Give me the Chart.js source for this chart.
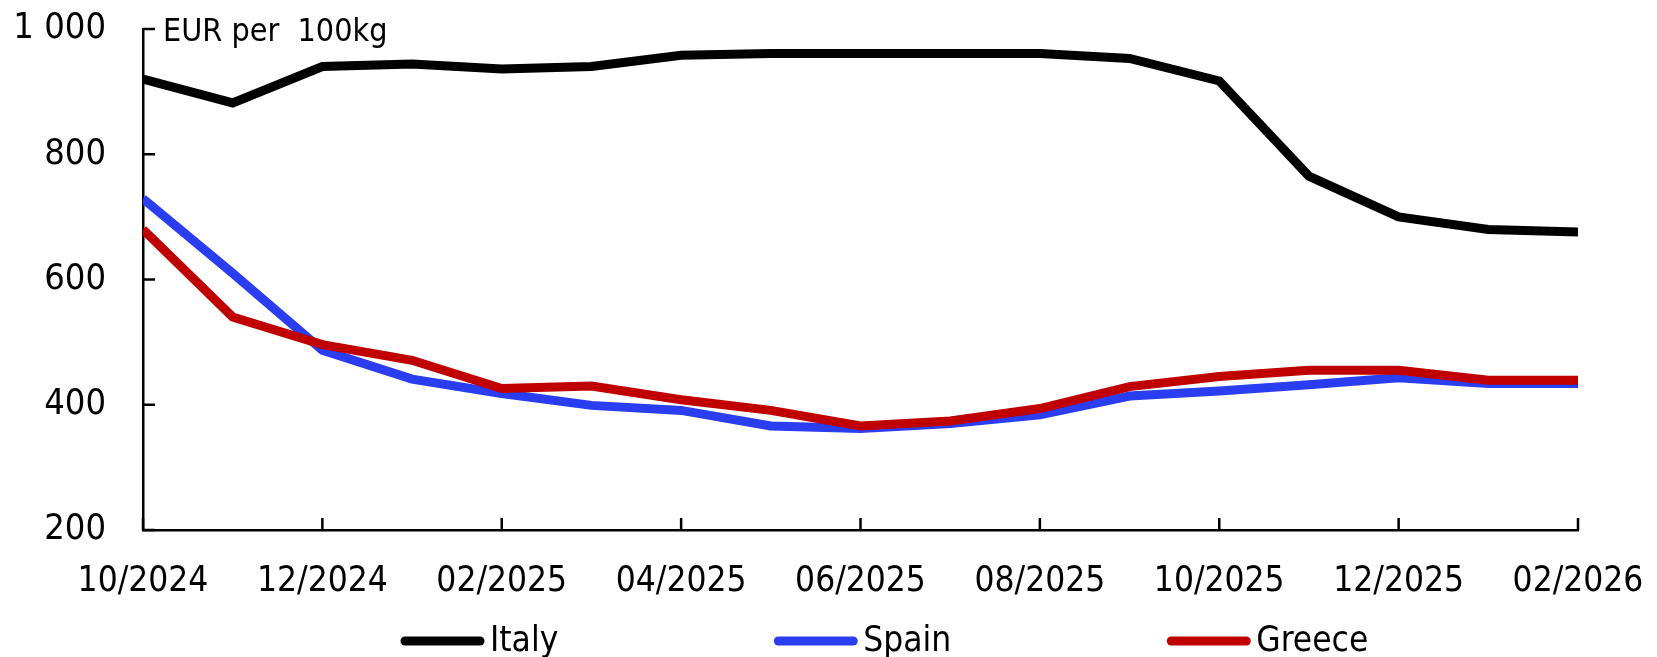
<!DOCTYPE html>
<html>
<head>
<meta charset="utf-8">
<title>Prices EUR per 100kg</title>
<script src="https://cdn.jsdelivr.net/npm/chart.js@4.4.1/dist/chart.umd.min.js"></script>
<style>
  body { margin: 0; background: #fff; }
  #wrap { width: 1657px; height: 657px; position: relative; }
</style>
</head>
<body>
<div id="wrap"><canvas id="price_chart"></canvas></div>
<script>
// monthly observations, 10/2024 .. 02/2026
const months = ["10/2024", "11/2024", "12/2024", "01/2025", "02/2025", "03/2025", "04/2025", "05/2025",
                "06/2025", "07/2025", "08/2025", "09/2025", "10/2025", "11/2025", "12/2025", "01/2026", "02/2026"];
const italy  = [920, 882, 940, 944, 936, 940, 958, 961, 961, 961, 961, 953, 917, 765, 700, 680, 676];
const spain  = [729, 610, 487, 441, 418, 399, 391, 366, 362, 370, 384, 414, 422, 432, 443, 434, 434];
const greece = [680, 540, 496, 471, 426, 430, 408, 391, 366, 374, 394, 429, 445, 455, 455, 439, 439];
const yTicks = [200, 400, 600, 800, 1000];
const unitLabel = "EUR per  100kg";

const FONT = '"DejaVu Sans Condensed", "DejaVu Sans", sans-serif';

// small inward tick marks on both axes
const innerTicks = {
    id: "innerTicks",
    beforeDatasetsDraw(chart) {
        const {ctx, chartArea, scales} = chart;
        ctx.save();
        ctx.strokeStyle = "#000";
        ctx.lineWidth = 2.5;
        ctx.beginPath();
        scales.y.ticks.forEach((t, i) => {
            const y = scales.y.getPixelForTick(i);
            ctx.moveTo(chartArea.left, y);
            ctx.lineTo(chartArea.left + 12, y);
        });
        scales.x.ticks.forEach((t, i) => {
            if (i % 2) return;
            const x = scales.x.getPixelForTick(i);
            ctx.moveTo(x, chartArea.bottom);
            ctx.lineTo(x, chartArea.bottom - 12);
        });
        ctx.stroke();
        ctx.restore();
    }
};

// unit text next to the top of the y axis + legend row at the bottom
const extras = {
    id: "extras",
    afterDraw(chart) {
        const {ctx, chartArea} = chart;
        ctx.save();
        ctx.fillStyle = "#000";
        ctx.font = "32px " + FONT;
        ctx.textBaseline = "alphabetic";
        ctx.fillText(unitLabel, chartArea.left + 20, 41);

        ctx.font = "35px " + FONT;
        let x = chartArea.left + 258;
        const y = 641;
        chart.data.datasets.forEach(ds => {
            ctx.strokeStyle = ds.borderColor;
            ctx.lineWidth = 9;
            ctx.lineCap = "round";
            ctx.beginPath();
            ctx.moveTo(x + 4, y);
            ctx.lineTo(x + 79, y);
            ctx.stroke();
            ctx.fillText(ds.label, x + 89, 651);
            x += 89 + ctx.measureText(ds.label).width + 216;
        });
        ctx.restore();
    }
};

const ctx = document.getElementById("price_chart").getContext("2d");
new Chart(ctx, {
    type: "line",
    data: {
        labels: months,
        datasets: [
            { label: "Italy",  data: italy,  borderColor: "#000000", order: 1 },
            { label: "Spain",  data: spain,  borderColor: "#2b3df0", order: 2 },
            { label: "Greece", data: greece, borderColor: "#c00000", order: 0 }
        ]
    },
    options: {
        responsive: true,
        maintainAspectRatio: false,
        animation: false,
        datasets: {
            line: {
                borderWidth: 9,
                pointRadius: 0,
                tension: 0,
                fill: false,
                borderJoinStyle: "miter",
                clip: 0
            }
        },
        layout: { padding: { top: 29, left: 0, right: 79, bottom: 60 } },
        plugins: {
            legend: { display: false },
            tooltip: { enabled: false }
        },
        scales: {
            x: {
                type: "category",
                offset: false,
                grid: { display: false, drawTicks: false },
                border: { display: true, color: "#000", width: 2.5 },
                afterFit: s => {
                    s.height = 67;
                    s.paddingLeft = 0;
                    s.paddingRight = 0;
                },
                ticks: {
                    autoSkip: false,
                    maxRotation: 0,
                    padding: 31,
                    color: "#000",
                    font: { family: FONT, size: 35 },
                    callback: function(val, i) {
                        return i % 2 === 0 ? this.getLabelForValue(val) : "";
                    }
                }
            },
            y: {
                min: yTicks[0],
                max: yTicks[yTicks.length - 1],
                grid: { display: false, drawTicks: false },
                border: { display: true, color: "#000", width: 2.5 },
                afterFit: s => {
                    s.width = 143;
                    s.paddingTop = 0;
                    s.paddingBottom = 0;
                },
                afterBuildTicks: s => { s.ticks = yTicks.map(v => ({ value: v })); },
                ticks: {
                    padding: 37,
                    color: "#000",
                    font: { family: FONT, size: 36 },
                    callback: v => String(v).replace(/\B(?=(\d{3})+(?!\d))/g, " ")
                }
            }
        }
    },
    plugins: [innerTicks, extras]
});
</script>
</body>
</html>
